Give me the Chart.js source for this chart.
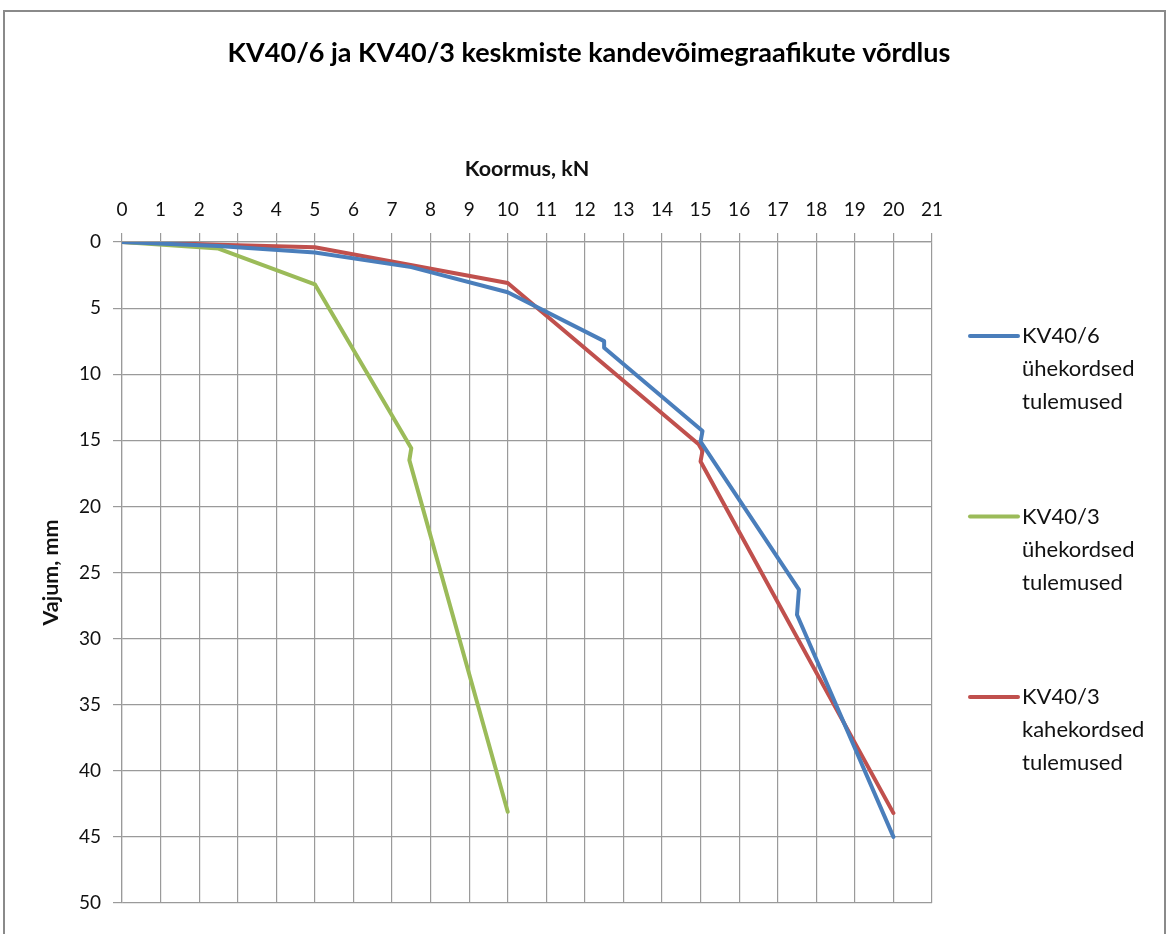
<!DOCTYPE html>
<html>
<head>
<meta charset="utf-8">
<script src="https://cdn.jsdelivr.net/npm/chart.js@4"></script>
<style>
  body { margin: 0; background: #fff; }
  #wrap { width: 1168px; height: 934px; }
</style>
</head>
<body>
<div id="wrap"><canvas id="chart" width="1168" height="934"></canvas></div>
<script>
// ===============================
// DATA
// ===============================

const chartTitle = "KV40/6 ja KV40/3 keskmiste kandevõimegraafikute võrdlus";
const xTitle = "Koormus, kN";
const yTitle = "Vajum, mm";

// KV40/6 ühekordsed tulemused
const kv406Load = [0, 2.5, 5, 7.5, 10, 12.5, 12.5, 15.05, 15, 17.55, 17.5, 20];
const kv406Sag  = [0, 0.3, 0.8, 1.9, 3.8, 7.5, 8.0, 14.3, 15.1, 26.3, 28.2, 45];

// KV40/3 ühekordsed tulemused
const kv403Load = [0, 2.5, 5, 7.5, 7.45, 10];
const kv403Sag  = [0, 0.5, 3.2, 15.6, 16.5, 43.1];

// KV40/3 kahekordsed tulemused
const kv403dLoad = [0, 2.5, 5, 10, 14.95, 15.05, 15, 20];
const kv403dSag  = [0, 0.2, 0.4, 3.1, 15.3, 15.8, 16.6, 43.2];

const seriesNames = [
    ["KV40/6", "ühekordsed", "tulemused"],
    ["KV40/3", "ühekordsed", "tulemused"],
    ["KV40/3", "kahekordsed", "tulemused"]
];
const seriesColors = ["#4a7ebb", "#9bbb59", "#c0504d"];

const xTicks = [0, 1, 2, 3, 4, 5, 6, 7, 8, 9, 10, 11, 12, 13, 14, 15, 16, 17, 18, 19, 20, 21];
const yTicks = [0, 5, 10, 15, 20, 25, 30, 35, 40, 45, 50];


// ===============================
// HELPERS
// ===============================

function toPoints(xs, ys) {
    return xs.map((x, i) => ({ x: x, y: ys[i] }));
}

const FONT = "Lato, 'Open Sans', sans-serif";
const gridColor = "#9a9a9a";
const PAD_TOP = 156;
const PAD_LEFT = 32;


// ===============================
// PLUGINS
// ===============================

// frame + title
const framePlugin = {
    id: "frame",
    beforeDraw(chart) {
        const ctx = chart.ctx;
        ctx.save();
        ctx.fillStyle = "#fff";
        ctx.fillRect(0, 0, chart.width, chart.height);
        ctx.strokeStyle = "#8a8a8a";
        ctx.lineWidth = 2;
        ctx.strokeRect(4, 11, 1161, 940);
        ctx.fillStyle = "#000";
        ctx.font = "bold 27px " + FONT;
        ctx.textAlign = "center";
        ctx.textBaseline = "middle";
        ctx.fillText(chartTitle, 589, 53);
        ctx.restore();
    }
};

// legend with wrapped labels
const legendPlugin = {
    id: "sideLegend",
    afterDraw(chart) {
        const ctx = chart.ctx;
        ctx.save();
        chart.data.datasets.forEach((ds, i) => {
            const y0 = 336 + i * 180.5;
            ctx.strokeStyle = ds.borderColor;
            ctx.lineWidth = 4;
            ctx.lineCap = "round";
            ctx.beginPath();
            ctx.moveTo(970, y0);
            ctx.lineTo(1018, y0);
            ctx.stroke();
            ctx.fillStyle = "#111";
            ctx.font = "22px " + FONT;
            ctx.textAlign = "left";
            ctx.textBaseline = "middle";
            seriesNames[i].forEach((line, j) => {
                ctx.fillText(line, 1022, y0 + j * 33);
            });
        });
        ctx.restore();
    }
};


// ===============================
// CHART SETUP
// ===============================

const ctx = document.getElementById("chart").getContext("2d");

const lineStyle = {
    showLine: true,
    pointRadius: 0,
    borderWidth: 4,
    borderJoinStyle: "round",
    borderCapStyle: "round",
    fill: false
};

let chart = new Chart(ctx, {
    type: "scatter",
    data: {
        datasets: [
            Object.assign({ label: seriesNames[0].join(" "), data: toPoints(kv406Load, kv406Sag), borderColor: seriesColors[0], backgroundColor: seriesColors[0] }, lineStyle),
            Object.assign({ label: seriesNames[1].join(" "), data: toPoints(kv403Load, kv403Sag), borderColor: seriesColors[1], backgroundColor: seriesColors[1] }, lineStyle),
            Object.assign({ label: seriesNames[2].join(" "), data: toPoints(kv403dLoad, kv403dSag), borderColor: seriesColors[2], backgroundColor: seriesColors[2] }, lineStyle)
        ]
    },
    options: {
        responsive: false,
        animation: false,
        layout: { padding: { left: PAD_LEFT, top: PAD_TOP, right: 236, bottom: 31 } },
        plugins: {
            legend: { display: false },
            tooltip: { enabled: false }
        },
        scales: {
            x: {
                type: "linear",
                position: "top",
                min: 0,
                max: 21,
                afterBuildTicks: (axis) => { axis.ticks = xTicks.map(v => ({ value: v })); },
                afterFit: (axis) => { axis.height = 242 - PAD_TOP; },
                ticks: { color: "#111", font: { family: FONT, size: 19 }, padding: 12, maxRotation: 0 },
                grid: { color: gridColor, lineWidth: 1.2, tickLength: 9 },
                border: { color: gridColor, width: 1.2 },
                title: { display: true, text: xTitle, color: "#111", font: { family: FONT, size: 21.5, weight: "bold" }, padding: { top: 0, bottom: 4 } }
            },
            y: {
                type: "linear",
                reverse: true,
                min: 0,
                max: 50,
                afterBuildTicks: (axis) => { axis.ticks = yTicks.map(v => ({ value: v })); },
                afterFit: (axis) => { axis.width = 122 - PAD_LEFT; },
                ticks: { color: "#111", font: { family: FONT, size: 19 }, padding: 12 },
                grid: { color: gridColor, lineWidth: 1.2, tickLength: 9 },
                border: { color: gridColor, width: 1.2 },
                title: { display: true, text: yTitle, color: "#111", font: { family: FONT, size: 21.5, weight: "bold" }, padding: { top: 6, bottom: 0 } }
            }
        }
    },
    plugins: [framePlugin, legendPlugin]
});
</script>
</body>
</html>
